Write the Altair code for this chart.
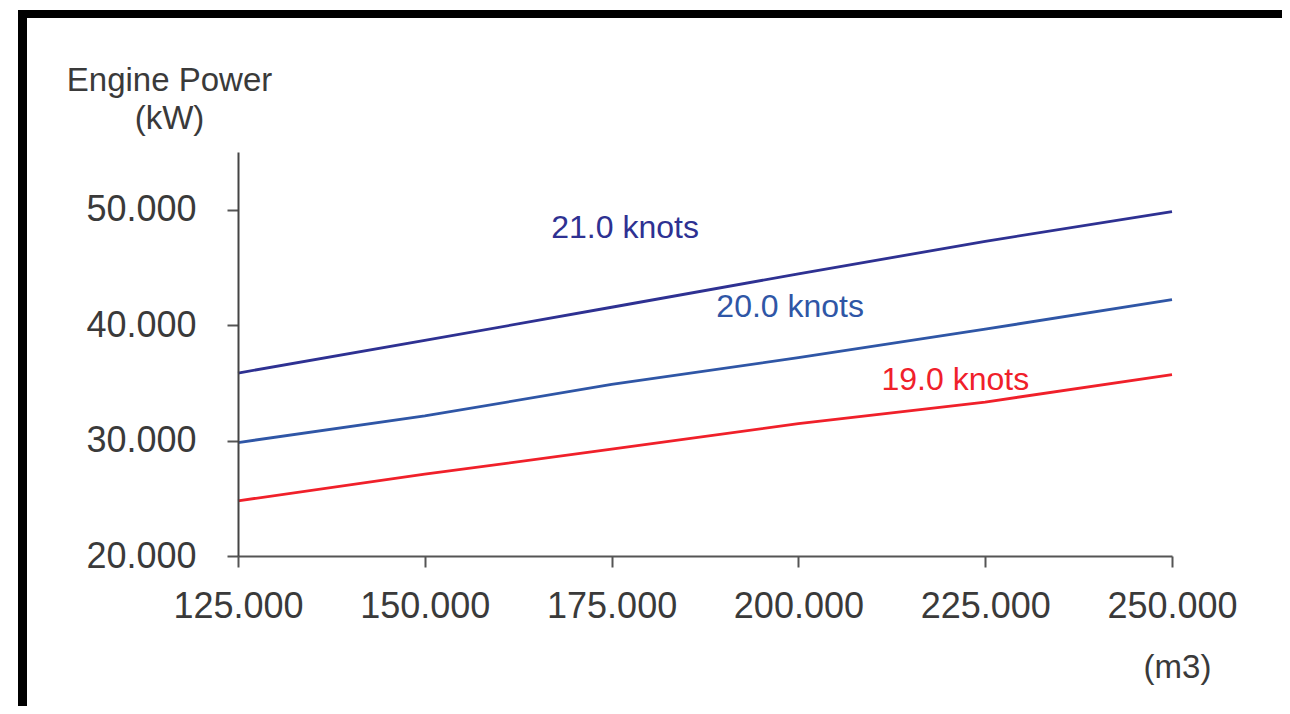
import altair as alt
import pandas as pd

# ---- data ----
capacity = [125000, 150000, 175000, 200000, 225000, 250000]
p21 = [35850, 38670, 41550, 44440, 47260, 49830]
p20 = [29830, 32130, 34870, 37180, 39650, 42220]
p19 = [24780, 27090, 29250, 31470, 33340, 35710]

series_names = ["21.0 knots", "20.0 knots", "19.0 knots"]
series_colors = ["#2E3192", "#2F56A6", "#F0202A"]

label_x = [176800, 198900, 221000]
label_y = [47520, 40730, 34380]

x_ticks = [125000, 150000, 175000, 200000, 225000, 250000]
y_ticks = [20000, 30000, 40000, 50000]

rows = []
for name, vals in zip(series_names, [p21, p20, p19]):
    for c, v in zip(capacity, vals):
        rows.append({"capacity": c, "power": v, "series": name})
df = pd.DataFrame(rows)
labels_df = pd.DataFrame({"capacity": label_x, "power": label_y, "series": series_names})

FONT = "Liberation Sans"
TXT = "#3a3a3a"

x_scale = alt.Scale(domain=[125000, 250000], nice=False, zero=False)
y_scale = alt.Scale(domain=[20000, 55000], nice=False, zero=False)
color_scale = alt.Scale(domain=series_names, range=series_colors)

x_axis = alt.Axis(
    values=x_ticks, format=",d", labelExpr="replace(datum.label, ',', '.')",
    grid=False, tickSize=11, tickWidth=2, tickColor="#555555",
    domainColor="#555555", domainWidth=2,
    labelFont=FONT, labelFontSize=36, labelColor=TXT, labelPadding=22,
    labelFlush=False, labelOverlap=False,
    title="(m3)", titleX=939, titleY=121, titleAlign="center",
    titleBaseline="alphabetic", titleFont=FONT, titleFontSize=33,
    titleFontWeight="normal", titleColor=TXT, zindex=1,
)
y_axis = alt.Axis(
    values=y_ticks, format=",d", labelExpr="replace(datum.label, ',', '.')",
    grid=False, tickSize=11, tickWidth=2, tickColor="#555555",
    domainColor="#444444", domainWidth=2,
    labelFont=FONT, labelFontSize=36, labelColor=TXT, labelPadding=31,
    labelFlush=False, labelOverlap=False,
    title=["Engine Power", "(kW)"], titleAngle=0, titleX=-69, titleY=-62,
    titleAlign="center", titleBaseline="alphabetic", titleLineHeight=38,
    titleFont=FONT, titleFontSize=33, titleFontWeight="normal",
    titleColor=TXT, zindex=1,
)

one = pd.DataFrame({"k": [0]})

# decorative black frame around the figure
frame_outer = alt.Chart(one).mark_rect(color="#000000").encode(
    x=alt.value(-220), x2=alt.value(1100), y=alt.value(-142), y2=alt.value(600)
)
frame_inner = alt.Chart(one).mark_rect(color="#FFFFFF").encode(
    x=alt.value(-211), x2=alt.value(1100), y=alt.value(-134), y2=alt.value(559)
)

lines = alt.Chart(df).mark_line(strokeWidth=2.8).encode(
    x=alt.X("capacity:Q", scale=x_scale, axis=x_axis),
    y=alt.Y("power:Q", scale=y_scale, axis=y_axis),
    color=alt.Color("series:N", scale=color_scale, legend=None),
    detail="series:N",
)

texts = alt.Chart(labels_df).mark_text(
    font=FONT, fontSize=32, align="center", baseline="alphabetic"
).encode(
    x=alt.X("capacity:Q", scale=x_scale),
    y=alt.Y("power:Q", scale=y_scale),
    text="series:N",
    color=alt.Color("series:N", scale=color_scale, legend=None),
)

chart = alt.layer(frame_outer, frame_inner, lines, texts).properties(
    width=934, height=404,
    autosize=alt.AutoSizeParams(type="none"),
    padding={"left": 230, "top": 144, "right": 110, "bottom": 150},
    background="#FFFFFF",
).configure_view(stroke=None)

chart.save("out.html", embed_options={"renderer": "svg", "actions": False})
